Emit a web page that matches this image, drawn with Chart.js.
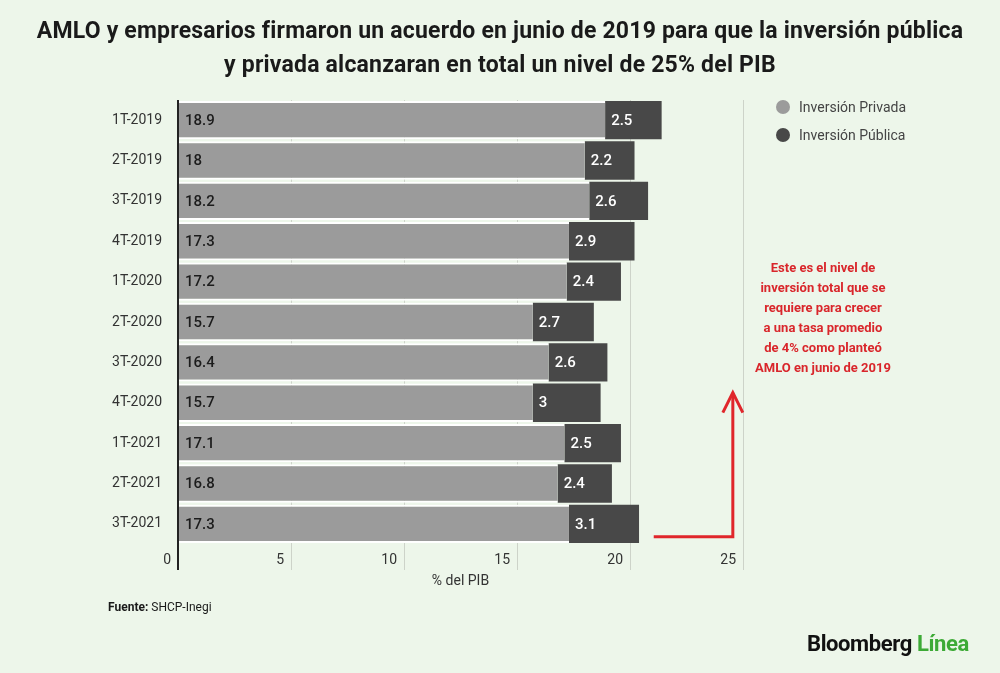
<!DOCTYPE html>
<html lang="es">
<head>
<meta charset="utf-8">
<title>Inversión pública y privada</title>
<script src="https://cdn.jsdelivr.net/npm/chart.js@4.4.1/dist/chart.umd.min.js"></script>
<style>
  html, body { margin: 0; padding: 0; background: #edf6ea; }
  #marco { position: relative; width: 1000px; height: 673px; overflow: hidden; font-family: Roboto, "Noto Sans", sans-serif; }
  #grafico { position: absolute; left: 0; top: 0; }
  .titulo { position: absolute; left: 0; top: 14px; width: 1000px; text-align: center;
            font-size: 23px; line-height: 34px; font-weight: 700; letter-spacing: 0.2px; color: #1a1a1a; }
  .fuente { position: absolute; left: 108px; top: 600px; font-size: 12px; color: #1a1a1a; }
  .fuente b { font-weight: 700; }
  .logo { position: absolute; left: 807px; top: 631px; font-size: 22px; font-weight: 700; letter-spacing: -0.4px; color: #111; }
  .logo span { color: #3daa36; }
</style>
</head>
<body>
<div id="marco">
  <canvas id="grafico" width="1000" height="673"></canvas>
  <div class="titulo">AMLO y empresarios firmaron un acuerdo en junio de 2019 para que la inversión pública<br>y privada alcanzaran en total un nivel de 25% del PIB</div>
  <div class="fuente"><b>Fuente:</b> SHCP-Inegi</div>
  <div class="logo">Bloomberg <span>Línea</span></div>
</div>
<script>
// Datos del gráfico (% del PIB)
const trimestres = ['1T-2019', '2T-2019', '3T-2019', '4T-2019', '1T-2020', '2T-2020',
                    '3T-2020', '4T-2020', '1T-2021', '2T-2021', '3T-2021'];
const inversionPrivada = [18.9, 18, 18.2, 17.3, 17.2, 15.7, 16.4, 15.7, 17.1, 16.8, 17.3];
const inversionPublica = [2.5, 2.2, 2.6, 2.9, 2.4, 2.7, 2.6, 3, 2.5, 2.4, 3.1];
const ticksX = [0, 5, 10, 15, 20, 25];

const nombresSeries = ['Inversión Privada', 'Inversión Pública'];
const coloresSeries = ['#9b9b9b', '#484848'];
const coloresEtiquetas = ['#1c1c1c', '#ffffff'];

const notaTexto = [
  'Este es el nivel de',
  'inversión total que se',
  'requiere para crecer',
  'a una tasa promedio',
  'de 4% como planteó',
  'AMLO en junio de 2019'
];

const fuenteBase = 'Roboto, "Noto Sans", sans-serif';

// Etiquetas de valor dentro de cada segmento
const pluginEtiquetas = {
  id: 'etiquetas',
  afterDatasetsDraw(chart) {
    const ctx = chart.ctx;
    ctx.save();
    ctx.font = '500 15px ' + fuenteBase;
    ctx.textAlign = 'left';
    ctx.textBaseline = 'middle';
    chart.data.datasets.forEach((ds, i) => {
      const meta = chart.getDatasetMeta(i);
      ctx.fillStyle = coloresEtiquetas[i];
      meta.data.forEach((barra, j) => {
        ctx.fillText(String(ds.data[j]), barra.base + 6, barra.y + 1);
      });
    });
    ctx.restore();
  }
};

// Leyenda, flecha y nota en rojo
const pluginNota = {
  id: 'nota',
  afterDraw(chart) {
    const ctx = chart.ctx;
    const area = chart.chartArea;
    const x = chart.scales.x;
    const y = chart.scales.y;
    ctx.save();

    // leyenda
    ctx.font = '14px ' + fuenteBase;
    ctx.textAlign = 'left';
    ctx.textBaseline = 'middle';
    nombresSeries.forEach((nombre, i) => {
      const cy = area.top + 7 + i * 28;
      ctx.fillStyle = coloresSeries[i];
      ctx.beginPath();
      ctx.arc(area.right + 40, cy, 7, 0, Math.PI * 2);
      ctx.fill();
      ctx.fillStyle = '#444444';
      ctx.fillText(nombre, area.right + 56, cy + 1);
    });

    // flecha
    const xFlecha = x.getPixelForValue(24.55);
    const yBase = y.getPixelForValue(trimestres.length - 1) + 13;
    const yPunta = y.getPixelForValue(6.75);
    ctx.strokeStyle = '#e0262b';
    ctx.lineWidth = 3;
    ctx.lineJoin = 'miter';
    ctx.beginPath();
    ctx.moveTo(x.getPixelForValue(21.05), yBase);
    ctx.lineTo(xFlecha, yBase);
    ctx.lineTo(xFlecha, yPunta);
    ctx.stroke();
    ctx.beginPath();
    ctx.moveTo(xFlecha - 10, yPunta + 20);
    ctx.lineTo(xFlecha, yPunta);
    ctx.lineTo(xFlecha + 10, yPunta + 20);
    ctx.stroke();

    // nota
    ctx.fillStyle = '#d9262b';
    ctx.font = 'bold 13px ' + fuenteBase;
    ctx.textAlign = 'center';
    notaTexto.forEach((linea, i) => {
      ctx.fillText(linea, area.right + 80, 269 + i * 20);
    });
    ctx.restore();
  }
};

const ctx = document.getElementById('grafico').getContext('2d');
new Chart(ctx, {
  type: 'bar',
  data: {
    labels: trimestres,
    datasets: [
      {
        label: nombresSeries[0],
        data: inversionPrivada,
        backgroundColor: coloresSeries[0],
        borderColor: '#ffffff',
        borderWidth: { top: 2, bottom: 2, left: 0, right: 0 },
        borderSkipped: false
      },
      {
        label: nombresSeries[1],
        data: inversionPublica,
        backgroundColor: coloresSeries[1],
        borderWidth: 0
      }
    ]
  },
  options: {
    indexAxis: 'y',
    responsive: false,
    animation: false,
    barPercentage: 0.95,
    categoryPercentage: 1,
    layout: {
      padding: { left: 0, right: 257, top: 100, bottom: 81 }
    },
    plugins: {
      legend: { display: false },
      tooltip: { enabled: false },
      title: { display: false }
    },
    scales: {
      x: {
        stacked: true,
        min: 0,
        max: 25,
        afterBuildTicks(scale) {
          scale.ticks = ticksX.map(v => ({ value: v }));
        },
        afterFit(scale) {
          scale.height = 48;
        },
        border: { display: false },
        grid: {
          color: c => (c.tick && c.tick.value === 0) ? '#222222' : '#cdd3c9',
          lineWidth: c => (c.tick && c.tick.value === 0) ? 2 : 1,
          tickLength: 26
        },
        ticks: {
          align: 'end',
          padding: -18,
          color: '#333333',
          font: { family: fuenteBase, size: 14 },
          callback: v => v + '  '
        },
        title: {
          display: true,
          text: '% del PIB',
          color: '#333333',
          font: { family: fuenteBase, size: 14 },
          padding: { top: 0, bottom: 2 }
        }
      },
      y: {
        stacked: true,
        afterFit(scale) {
          scale.width = 178;
        },
        border: { display: false },
        grid: { display: false },
        ticks: {
          padding: 8,
          color: '#333333',
          font: { family: fuenteBase, size: 14 }
        }
      }
    }
  },
  plugins: [pluginEtiquetas, pluginNota]
});
</script>
</body>
</html>
